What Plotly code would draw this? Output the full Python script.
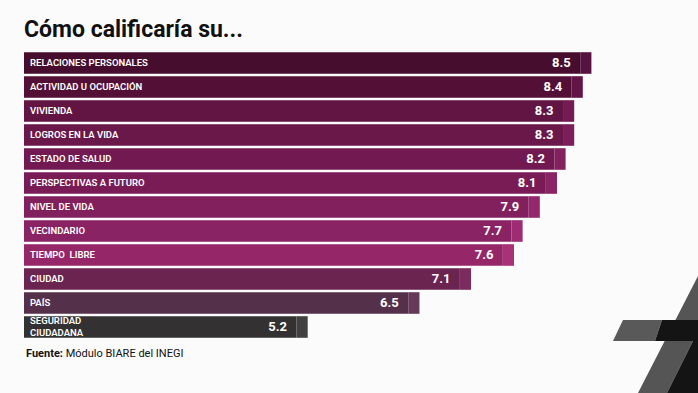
import plotly.graph_objects as go

# ---- data ----
categories = [
    "RELACIONES PERSONALES",
    "ACTIVIDAD U OCUPACIÓN",
    "VIVIENDA",
    "LOGROS EN LA VIDA",
    "ESTADO DE SALUD",
    "PERSPECTIVAS A FUTURO",
    "NIVEL DE VIDA",
    "VECINDARIO",
    "TIEMPO\u00a0\u00a0LIBRE",
    "CIUDAD",
    "PAÍS",
    "SEGURIDAD<br>CIUDADANA",
]
values = [8.5, 8.4, 8.3, 8.3, 8.2, 8.1, 7.9, 7.7, 7.6, 7.1, 6.5, 5.2]

title_text = "<b>Cómo calificaría su...</b>"
source_text = "<b>Fuente:</b> Módulo BIARE del INEGI"

# ---- styles ----
bar_colors = [
    "#460d2e", "#530f36", "#621543", "#6a174a", "#711950", "#791c56",
    "#82205e", "#8a2363", "#952768", "#6b2350", "#55304a", "#343132",
]
bevel_colors = [
    "#561340", "#631646", "#731b52", "#7b1e59", "#83215f", "#8b2465",
    "#94286d", "#9d2c72", "#a83277", "#7c2b5e", "#653a58", "#434041",
]
BEVEL = 0.13

W, H = 698, 393
ML, MR, MT, MB = 24, 0, 51, 54
PW, PH = W - ML - MR, H - MT - MB


def px(x, y):
    return (x - ML) / PW, (H - MB - y) / PH


def path(points):
    pts = [px(x, y) for x, y in points]
    return "M " + " L ".join(f"{a:.4f},{b:.4f}" for a, b in pts) + " Z"


fig = go.Figure()
fig.add_trace(go.Bar(
    y=categories, x=values, orientation="h",
    marker=dict(color=bar_colors, line_width=0),
    texttemplate="%{x:.1f}\u00a0\u00a0", textposition="inside",
    insidetextanchor="end",
    textfont=dict(family="Roboto", size=15, color="white", weight="bold"),
    hoverinfo="skip",
))
fig.add_trace(go.Bar(
    y=categories, x=[BEVEL] * len(values), base=values, orientation="h",
    marker=dict(color=bevel_colors, line_width=0),
    hoverinfo="skip",
))

logo = [
    (path([(698, 276), (638, 393), (667, 393), (698, 331)]), "#555555"),
    (path([(698, 331), (667, 393), (698, 393)]), "#141414"),
    (path([(623, 320), (662, 320), (655, 341), (613, 341)]), "#595959"),
    (path([(662, 320), (698, 320), (698, 341), (655, 341)]), "#141414"),
]
shapes = [dict(type="path", xref="paper", yref="paper", path=p,
               fillcolor=c, line=dict(width=0), layer="above") for p, c in logo]

fig.update_layout(
    width=W, height=H, autosize=False,
    margin=dict(l=ML, r=MR, t=MT, b=MB),
    paper_bgcolor="#fbfbfb", plot_bgcolor="#fbfbfb",
    barmode="overlay", bargap=0.1, showlegend=False,
    font=dict(family="Roboto"),
    title=dict(text=title_text, x=ML / W, xanchor="left", xref="container",
               y=1 - 29 / H, yanchor="middle", yref="container",
               font=dict(family="Roboto", size=23, color="#111111")),
    xaxis=dict(range=[2.03, 9.87], visible=False, fixedrange=True),
    yaxis=dict(autorange="reversed", ticks="", showgrid=False, zeroline=False,
               showline=False, ticklabelposition="inside", ticklabelstandoff=3,
               tickfont=dict(family="Roboto", size=9.5, color="white", weight=600),
               fixedrange=True),
    shapes=shapes,
    annotations=[dict(text=source_text, xref="paper", yref="paper", x=0,
                      y=px(0, 353)[1], xanchor="left", yanchor="middle",
                      showarrow=False,
                      font=dict(family="Roboto", size=11, color="#111111"))],
)

fig.write_html(
    "out.html",
    config={"displayModeBar": False},
    post_script="document.body.style.margin='0';document.body.style.background='#fbfbfb';",
)
